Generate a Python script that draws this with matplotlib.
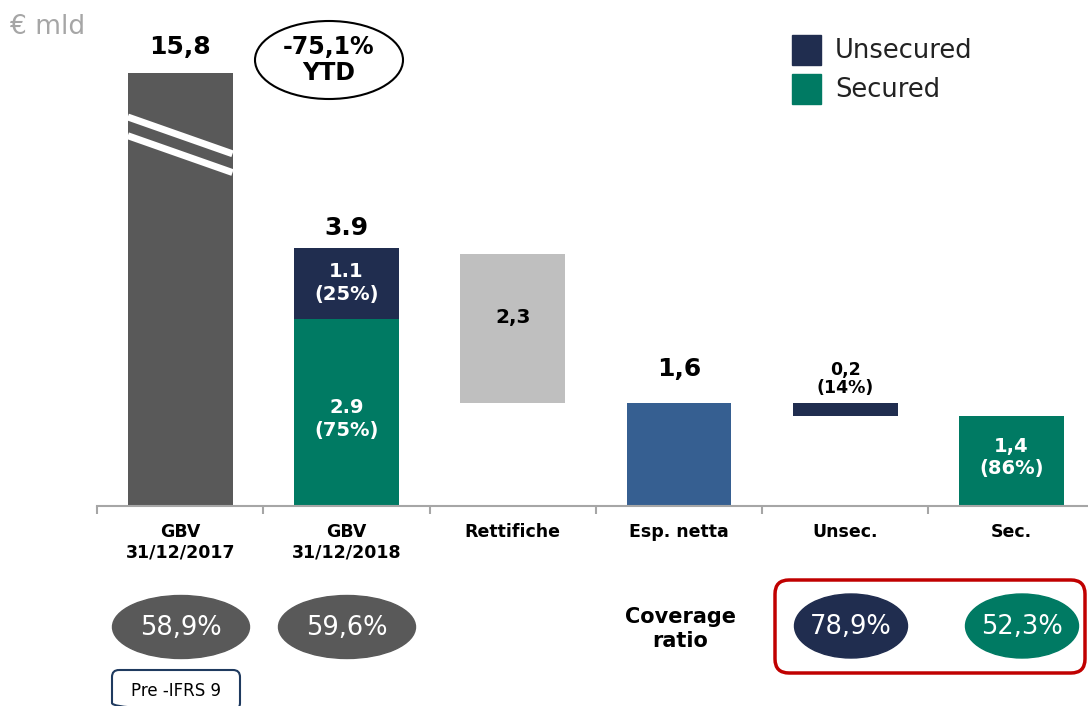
import matplotlib
matplotlib.use("Agg")
import matplotlib.pyplot as plt
from matplotlib.patches import Ellipse, FancyBboxPatch, Rectangle

plt.rcParams['font.family'] = ['DejaVu Sans']

# values in € bn
categories = ["GBV\n31/12/2017", "GBV\n31/12/2018", "Rettifiche", "Esp. netta", "Unsec.", "Sec."]
gbv_2017 = 15.8
gbv_2018 = 3.9
gbv_2018_unsec = 1.1
gbv_2018_sec = 2.9
share_2018 = [25, 75]          # unsecured, secured
rettifiche = 2.3
esp_netta = 1.6
net_unsec = 0.2
net_sec = 1.4
share_net = [14, 86]           # unsecured, secured
ytd_change = -75.1
coverage_gbv = [58.9, 59.6]
coverage_net = [78.9, 52.3]

c_dark = "#595959"
c_navy = "#202D4F"
c_green = "#007A63"
c_light = "#BFBFBF"
c_blue = "#365F91"

fmt = lambda v: f"{v:.1f}".replace(".", ",")

W, H = 1088, 706
fig = plt.figure(figsize=(W / 100, H / 100), dpi=100)
ax = fig.add_axes([97 / W, 200 / H, 1 - 97 / W, 506 / H])
ax.set_xlim(-0.5, 5.46)
ax.set_ylim(0, 7.83)
bw = 0.63
x = list(range(len(categories)))

# first bar is cut (axis break), shown at a reduced height
shown_2017 = 6.7
ax.bar(x[0], shown_2017, bw, color=c_dark)
for y0, y1 in [(6.02, 5.45), (5.73, 5.16)]:
    ax.plot([x[0] - bw / 2, x[0] + bw / 2], [y0, y1], color="white", lw=5, solid_capstyle="butt")

ax.bar(x[1], gbv_2018_sec, bw, color=c_green)
ax.bar(x[1], gbv_2018_unsec, bw, bottom=gbv_2018_sec, color=c_navy)
ax.bar(x[2], rettifiche, bw, bottom=esp_netta, color=c_light)
ax.bar(x[3], esp_netta, bw, color=c_blue)
ax.bar(x[4], net_unsec, bw, bottom=net_sec, color=c_navy)
ax.bar(x[5], net_sec, bw, color=c_green)

bold = dict(ha="center", va="center", fontweight="bold")
ax.text(x[0], shown_2017 + 0.4, fmt(gbv_2017), fontsize=18, **bold)
ax.text(x[1], gbv_2018 + 0.4, f"{gbv_2018:.1f}", fontsize=18, **bold)
ax.text(x[1], gbv_2018_sec + gbv_2018_unsec / 2, f"{gbv_2018_unsec:.1f}\n({share_2018[0]}%)",
        color="white", fontsize=14, linespacing=1.25, **bold)
ax.text(x[1], gbv_2018_sec / 2 - 0.1, f"{gbv_2018_sec:.1f}\n({share_2018[1]}%)",
        color="white", fontsize=14, linespacing=1.25, **bold)
ax.text(x[2], esp_netta + rettifiche * 0.57, fmt(rettifiche), fontsize=14.5, **bold)
ax.text(x[3], esp_netta + 0.52, fmt(esp_netta), fontsize=18, **bold)
ax.text(x[4], net_sec + net_unsec + 0.36, f"{fmt(net_unsec)}\n({share_net[0]}%)",
        fontsize=12.5, linespacing=1.0, **bold)
ax.text(x[5], net_sec / 2 + 0.05, f"{fmt(net_sec)}\n({share_net[1]}%)",
        color="white", fontsize=14, linespacing=1.25, **bold)

for s in ["top", "left", "right"]:
    ax.spines[s].set_visible(False)
ax.spines["bottom"].set_color("#A6A6A6")
ax.spines["bottom"].set_linewidth(1.5)
ax.set_yticks([])
ax.set_xticks([i - 0.5 for i in x])
ax.tick_params(axis="x", which="major", length=6, width=1.5, color="#A6A6A6",
               direction="out", labelbottom=False)
ax.set_xticks(x, categories, minor=True)
ax.tick_params(axis="x", which="minor", length=0, pad=12, labelsize=12.5)
for lab in ax.get_xticklabels(minor=True):
    lab.set_fontweight("bold")

# annotation layer in pixel units
ov = fig.add_axes([0, 0, 1, 1], facecolor="none")
ov.set_xlim(0, W)
ov.set_ylim(H, 0)
ov.axis("off")

ov.text(10, 27, "€ mld", fontsize=19, color="#A6A6A6", va="center", ha="left")

ov.add_patch(Ellipse((329, 60), 148, 78, fill=False, ec="black", lw=1.5))
ov.text(329, 60, f"{fmt(ytd_change)}%\nYTD", fontsize=17, linespacing=1.1, **bold)

ov.add_patch(Rectangle((792, 35), 29, 30, color=c_navy))
ov.add_patch(Rectangle((792, 74), 29, 30, color=c_green))
ov.text(835, 51, "Unsecured", fontsize=18.5, va="center", ha="left", color="#222222")
ov.text(835, 90, "Secured", fontsize=18.5, va="center", ha="left", color="#222222")

for cx, v in zip([181, 347], coverage_gbv):
    ov.add_patch(Ellipse((cx, 627), 137, 63, color=c_dark))
    ov.text(cx, 628, f"{fmt(v)}%", fontsize=18.5, color="white", ha="center", va="center")

ov.add_patch(FancyBboxPatch((112, 670), 128, 40, boxstyle="round,pad=0,rounding_size=7",
                            fill=False, ec="#1F3A5F", lw=1.5))
ov.text(176, 691, "Pre -IFRS 9", fontsize=12, ha="center", va="center")

ov.text(680, 629, "Coverage\nratio", fontsize=15, linespacing=1.3, **bold)
ov.add_patch(FancyBboxPatch((775, 580), 310, 93, boxstyle="round,pad=0,rounding_size=14",
                            fill=False, ec="#C00000", lw=2.5))
for cx, v, c in zip([851, 1022], coverage_net, [c_navy, c_green]):
    ov.add_patch(Ellipse((cx, 626), 113, 64, color=c))
    ov.text(cx, 627, f"{fmt(v)}%", fontsize=18.5, color="white", ha="center", va="center")

fig.savefig("out.png", dpi=100)
